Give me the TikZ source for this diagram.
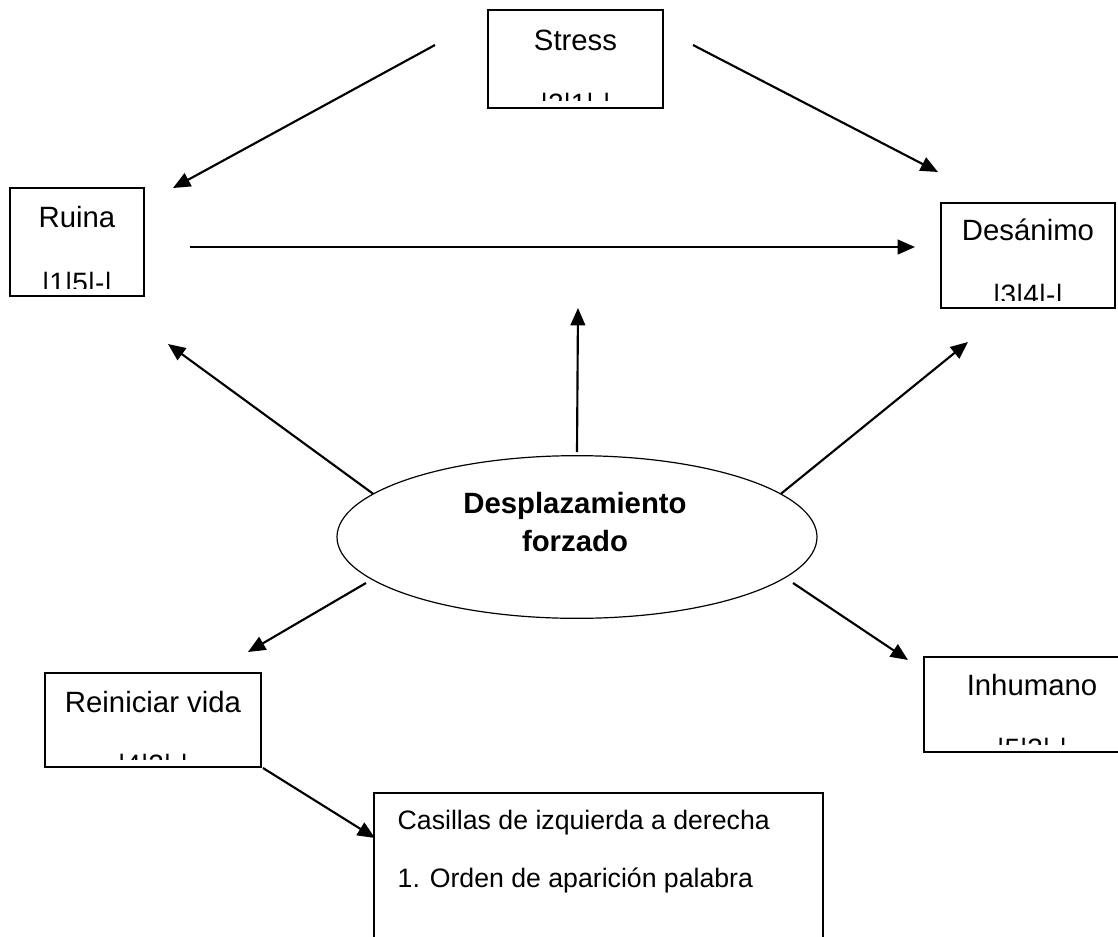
\documentclass[tikz,border=0pt]{standalone}
\usepackage{fontspec}
\setmainfont{Liberation Sans}
\usetikzlibrary{arrows.meta,shapes.geometric}

\begin{document}
\begin{tikzpicture}[x=0.75pt,y=-0.75pt,
  box/.style={draw,line width=0.8pt},
  arr/.style={line width=1.6pt,-{Triangle[length=13pt,width=11pt]}},
  word/.style={font=\fontsize{22}{26}\selectfont},
  note/.style={font=\fontsize{20}{24}\selectfont,anchor=west},
  code/.style={font=\fontsize{21}{25}\selectfont,anchor=base}]
\useasboundingbox (0,0) rectangle (1118,936);
\fill[white] (0,0) rectangle (1118,936);
% word boxes, the code line is cut off inside the box
\foreach \n/\xa/\ya/\xb/\yb/\w/\wy/\c/\cy in {
  stress/488/10/663/108/Stress/40/|2|1|-|/113,
  ruina/10/188/144/296/Ruina/217/|1|5|-|/292,
  desanimo/941/203/1115/308/Desánimo/230/|3|4|-|/304,
  reiniciar/45/673/261/767/Reiniciar vida/702/|4|2|-|/774,
  inhumano/924/657/1140/752/Inhumano/685/|5|3|-|/758} {
  \draw[box] (\xa,\ya) rectangle (\xb,\yb);
  \node[word] (\n) at ({(\xa+\xb)/2},\wy) {\w};
  \begin{scope}
    \clip (\xa,\ya) rectangle (\xb,\yb-8);
    \node[code] at ({(\xa+\xb)/2},\cy) {\c};
  \end{scope}
}
\draw[box] (374,793) rectangle (823,960);
\node[note] (note1) at (393,823) {Casillas de izquierda a derecha};
\node[note] (note2) at (393,880) {1. Orden de aparición palabra};
\node[draw,ellipse,line width=0.9pt,minimum width=360pt,minimum height=122pt] (forced) at (577,537) {};
\node[font=\fontsize{22}{29}\selectfont\bfseries,align=center] (forcedtxt) at (575,522) {Desplazamiento\\forzado};
% arrow ends
\coordinate (s1) at (435,45);  \coordinate (t1) at (173,188);
\coordinate (s2) at (693,45);  \coordinate (t2) at (938,172);
\coordinate (s3) at (190,247); \coordinate (t3) at (915,247);
\coordinate (t4) at (168,344);
\coordinate (t5) at (578,308);
\coordinate (t6) at (968,342);
\coordinate (t7) at (248,652);
\coordinate (t8) at (908,660);
\coordinate (s9) at (263,768); \coordinate (t9) at (375,838);
\draw[arr] (s1) -- (t1);
\draw[arr] (s2) -- (t2);
\draw[arr] (s3) -- (t3);
\draw[arr] (forced.168) -- (t4);
\draw[arr] (577,452) -- (t5);
\draw[arr] (forced.12) -- (t6);
\draw[arr] (366,583) -- (t7);
\draw[arr] (793,583) -- (t8);
\draw[arr] (s9) -- (t9);
\end{tikzpicture}
\end{document}
